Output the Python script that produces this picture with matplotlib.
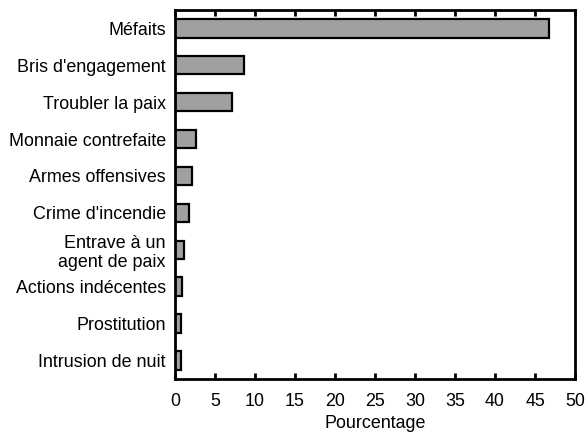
import matplotlib
matplotlib.use("Agg")
import matplotlib.pyplot as plt

categories = ["Méfaits", "Bris d'engagement", "Troubler la paix", "Monnaie contrefaite",
              "Armes offensives", "Crime d'incendie", "Entrave à un\nagent de paix",
              "Actions indécentes", "Prostitution", "Intrusion de nuit"]
values = [46.7, 8.6, 7.1, 2.6, 2.1, 1.7, 1.1, 0.9, 0.8, 0.7]
xticks = list(range(0, 55, 5))

plt.rcParams['font.family'] = ['Liberation Sans', 'DejaVu Sans']
plt.rcParams['font.size'] = 12.9

fig = plt.figure(figsize=(5.85, 4.32), dpi=100)
ax = fig.add_axes([0.299, 0.123, 0.684, 0.854])
pos = list(range(len(categories)))
ax.barh(pos, values, height=0.5, color='#a0a0a0', edgecolor='black', linewidth=1.6)
ax.set_ylim(len(categories) - 0.5, -0.5)
ax.set_xlim(0, 50)
ax.set_xticks(xticks)
ax.set_yticks(pos)
ax.set_yticklabels(categories, ha='right', multialignment='right', linespacing=1.15)
ax.tick_params(axis='y', length=0, pad=6.5)
ax.tick_params(axis='x', direction='in', length=4, width=2, top=True, pad=10)
for s in ax.spines.values():
    s.set_linewidth(2)
ax.set_xlabel("Pourcentage", labelpad=3.5)
fig.savefig("out.png", dpi=100)
